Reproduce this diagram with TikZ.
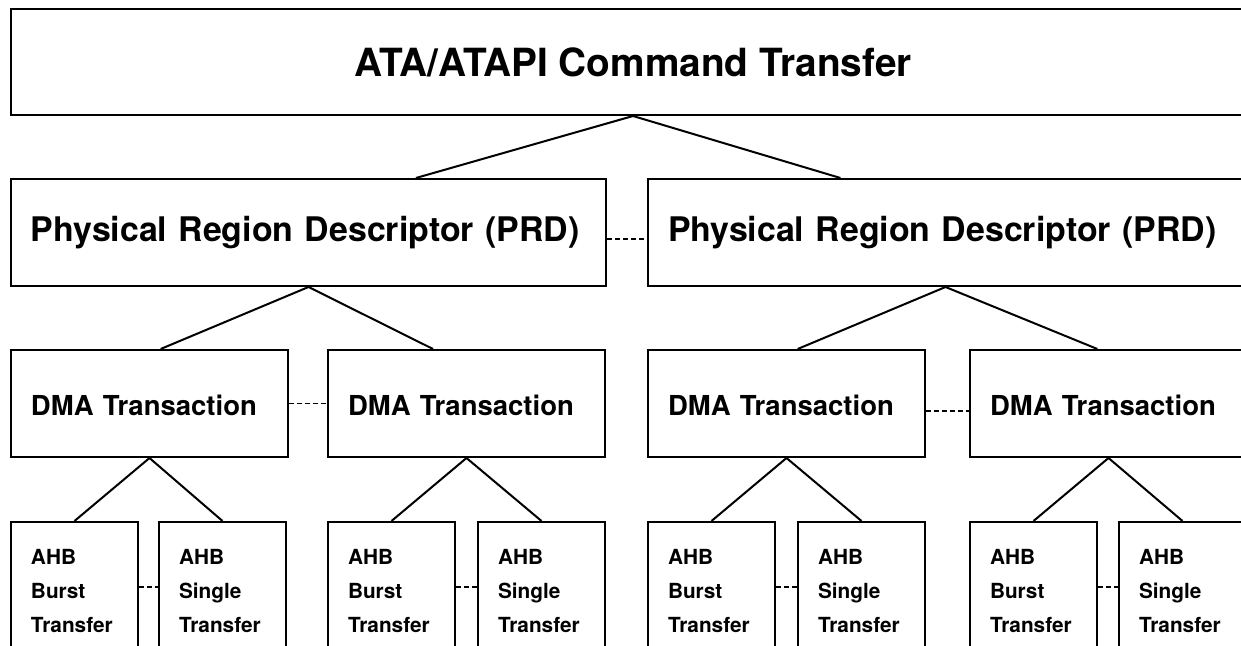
\documentclass[tikz,border=0pt]{standalone}
\usepackage{fontspec}
\setmainfont{TeX Gyre Heros}
\usetikzlibrary{calc}

\begin{document}
\begin{tikzpicture}[x=0.5pt, y=-0.5pt,
        box/.style={draw=black, line width=1pt, anchor=north west, inner sep=0pt},
        titlebox/.style={box, minimum width=622pt, minimum height=53pt,
            font=\bfseries\fontsize{19.4}{22}\selectfont},
        prdbox/.style={box, minimum width=297.5pt, minimum height=53.5pt, inner xsep=10pt,
            text width=277.5pt, align=left, font=\bfseries\fontsize{16.95}{20}\selectfont},
        dmabox/.style={box, minimum width=138.5pt, minimum height=53.5pt, inner xsep=10pt,
            text width=118.5pt, align=left, text height=12pt, text depth=0pt,
            font=\bfseries\fontsize{13.75}{16}\selectfont},
        ahbbox/.style={box, minimum width=63.5pt, minimum height=69.5pt, inner xsep=10pt,
            text width=43.5pt, align=left, font=\bfseries\fontsize{10.4}{17}\selectfont},
        link/.style={draw=black, line width=1pt},
        dotlink/.style={draw=black, line width=0.6pt, dash pattern=on 2.5pt off 1.5pt}]
    \useasboundingbox (0,0) rectangle (1241,646);
    \clip (0,0) rectangle (1241,646);
    % command level
    \node[titlebox] (cmd) at (10,8) {ATA/ATAPI Command Transfer};
    % descriptors
    \node[prdbox] (prdA) at (10,178) {Physical Region Descriptor (PRD)};
    \node[prdbox] (prdB) at (647,178) {Physical Region Descriptor (PRD)};
    % dma transactions
    \node[dmabox] (dmaA) at (10,349) {DMA Transaction};
    \node[dmabox] (dmaB) at (327,349) {DMA Transaction};
    \node[dmabox] (dmaC) at (647,349) {DMA Transaction};
    \node[dmabox] (dmaD) at (969,349) {DMA Transaction};
    % ahb transfers
    \node[ahbbox] (ahbA) at (10,521) {AHB\\Burst\\Transfer};
    \node[ahbbox] (ahbB) at (158,521) {AHB\\Single\\Transfer};
    \node[ahbbox] (ahbC) at (327,521) {AHB\\Burst\\Transfer};
    \node[ahbbox] (ahbD) at (477,521) {AHB\\Single\\Transfer};
    \node[ahbbox] (ahbE) at (647,521) {AHB\\Burst\\Transfer};
    \node[ahbbox] (ahbF) at (797,521) {AHB\\Single\\Transfer};
    \node[ahbbox] (ahbG) at (969,521) {AHB\\Burst\\Transfer};
    \node[ahbbox] (ahbH) at (1118,521) {AHB\\Single\\Transfer};
    % tree lines
    \draw[link] ($(prdA.north west)!0.68!(prdA.north east)$) -- (cmd.south) -- ($(prdB.north west)!0.324!(prdB.north east)$);
    \draw[link] ($(dmaA.north west)!0.54!(dmaA.north east)$) -- (prdA.south) -- ($(dmaB.north west)!0.38!(dmaB.north east)$);
    \draw[link] ($(dmaC.north west)!0.54!(dmaC.north east)$) -- (prdB.south) -- ($(dmaD.north west)!0.46!(dmaD.north east)$);
    \draw[link] (ahbA.north) -- (dmaA.south) -- (ahbB.north);
    \draw[link] (ahbC.north) -- (dmaB.south) -- (ahbD.north);
    \draw[link] (ahbE.north) -- (dmaC.south) -- (ahbF.north);
    \draw[link] (ahbG.north) -- (dmaD.south) -- (ahbH.north);
    % dotted links between siblings
    \draw[dotlink] ($(prdA.east)+(0,6.5)$) -- ($(prdB.west)+(0,6.5)$);
    \draw[dotlink] (dmaA.east) -- (dmaB.west);
    \draw[dotlink] ($(dmaC.east)+(0,7.5)$) -- ($(dmaD.west)+(0,7.5)$);
    \draw[dotlink] ($(ahbA.east)+(0,-4.5)$) -- ($(ahbB.west)+(0,-4.5)$);
    \draw[dotlink] ($(ahbC.east)+(0,-4.5)$) -- ($(ahbD.west)+(0,-4.5)$);
    \draw[dotlink] ($(ahbE.east)+(0,-4.5)$) -- ($(ahbF.west)+(0,-4.5)$);
    \draw[dotlink] ($(ahbG.east)+(0,-4.5)$) -- ($(ahbH.west)+(0,-4.5)$);
\end{tikzpicture}
\end{document}
